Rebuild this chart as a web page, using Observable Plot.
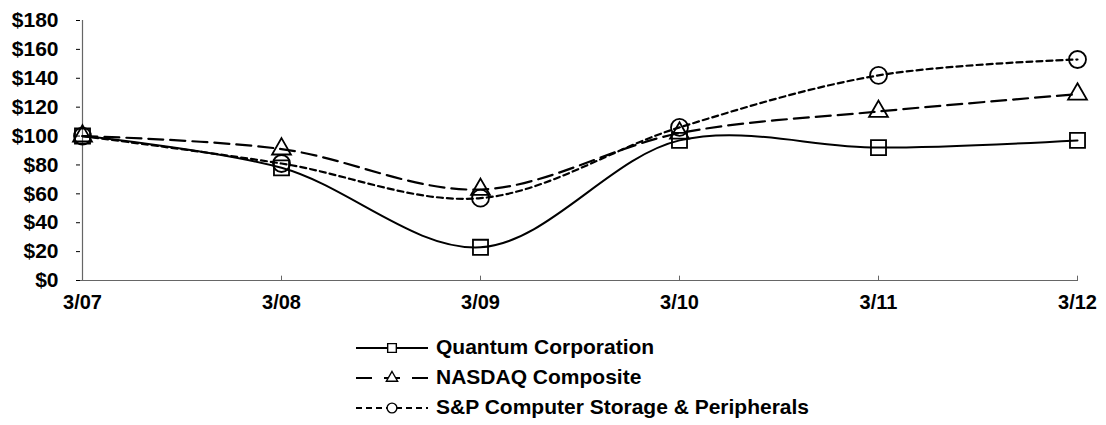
<!DOCTYPE html>
<html><head><meta charset="utf-8">
<script src="https://cdn.jsdelivr.net/npm/d3@7"></script>
<script src="https://cdn.jsdelivr.net/npm/@observablehq/plot@0.6"></script>
<style>
body{margin:0;background:#fff;font-family:"Liberation Sans",Arial,sans-serif;}
#chart svg{display:block;}
#legend{margin-left:356px;margin-top:0px;}
.row{display:flex;align-items:center;height:30px;}
.row span{font-weight:bold;font-size:21px;color:#000;margin-left:6px;}
</style></head><body>
<div id="chart"></div>
<div id="legend"></div>
<script>
const periods = ["3/07","3/08","3/09","3/10","3/11","3/12"];
const quantum = [100, 78, 23, 97, 92, 97];
const nasdaq = [100, 91, 63, 102, 117, 129];
const spStorage = [100, 81, 57, 106, 142, 153];
const seriesNames = ["Quantum Corporation", "NASDAQ Composite", "S&P Computer Storage & Peripherals"];
const yTicks = [0, 20, 40, 60, 80, 100, 120, 140, 160, 180];

const seriesValues = [quantum, nasdaq, spStorage];
const styles = [
  {dash: null, symbol: "square", r: 8.5, width: 2},
  {dash: "15,7", symbol: "triangle", r: 7, width: 2.2},
  {dash: "6,4", symbol: "circle", r: 8.5, width: 2.2}
];
const table = seriesNames.map((name, s) => periods.map((p, i) => ({series: name, period: p, value: seriesValues[s][i]})));

const marks = [
  Plot.ruleY([0], {stroke: "#666", strokeWidth: 1.2}),
  Plot.ruleX([periods[0]], {stroke: "#666", strokeWidth: 1.2}),
  Plot.ruleX(periods, {x: d => d, y1: 0, y2: 3, stroke: "#666"}),
];
table.forEach((rows, s) => {
  const st = styles[s];
  marks.push(Plot.line(rows, {x: "period", y: "value", curve: "catmull-rom", stroke: "#000", strokeWidth: st.width, strokeDasharray: st.dash || undefined}));
  marks.push(Plot.dot(rows, {x: "period", y: "value", symbol: () => st.symbol, r: st.r, stroke: "#000", strokeWidth: 1.8, fill: "none"}));
});
marks.push(Plot.axisY({ticks: yTicks, tickFormat: d => "$" + d, tickSize: 4, tickPadding: 18, fontSize: 21, fontWeight: "bold", fill: "#000"}));
marks.push(Plot.axisX({tickSize: 0, tickPadding: 14, fontSize: 20, fontWeight: "bold", fill: "#000"}));

const chart = Plot.plot({
  width: 1106, height: 332,
  marginLeft: 80, marginRight: 28, marginTop: 20, marginBottom: 52,
  style: {fontFamily: "'Liberation Sans', Arial, sans-serif", color: "#000", background: "#fff"},
  x: {type: "point", domain: periods, padding: 0, label: null},
  y: {type: "linear", domain: [0, 180], label: null},
  marks
});
document.getElementById("chart").append(chart);

const legend = document.getElementById("legend");
const symbolPaths = {square: d3.symbolSquare, triangle: d3.symbolTriangle, circle: d3.symbolCircle};
seriesNames.forEach((name, s) => {
  const st = styles[s];
  const row = document.createElement("div");
  row.className = "row";
  const svg = d3.create("svg").attr("width", 74).attr("height", 22);
  svg.append("line").attr("x1", 0).attr("x2", 72).attr("y1", 12).attr("y2", 12)
    .attr("stroke", "#000").attr("stroke-width", 2).attr("stroke-dasharray", st.dash ? (s === 1 ? "16,12" : "6,4") : null);
  svg.append("path").attr("transform", "translate(36,12)")
    .attr("d", d3.symbol(symbolPaths[st.symbol], st.symbol === "triangle" ? 55 : 75)())
    .attr("fill", "#fff").attr("stroke", "#000").attr("stroke-width", 1.4);
  row.append(svg.node());
  const span = document.createElement("span");
  span.textContent = name;
  row.append(span);
  legend.append(row);
});
</script>
</body></html>
